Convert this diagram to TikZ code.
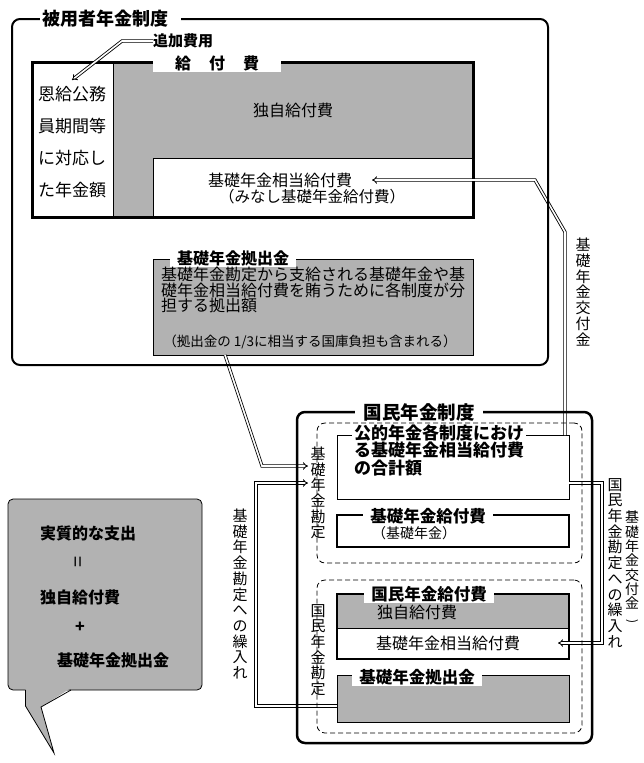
\documentclass[tikz,border=0pt]{standalone}
\usepackage{fontspec}
\usepackage{graphicx}
\setmainfont{Noto Sans CJK JP}
\usetikzlibrary{arrows.meta,calc}
\definecolor{boxgray}{RGB}{178,178,178}
\newcommand\fz[1]{\fontsize{#1}{#1}\selectfont}
\begin{document}
\begin{tikzpicture}[x=1pt,y=-1pt,
  frame/.style={draw, anchor=north west, inner sep=0pt, outer sep=0pt},
  ttl/.style={fill=white, font=\bfseries\fz{16}, inner xsep=7pt, inner ysep=1pt},
  txt/.style={font=\fz{16}, inner sep=0pt},
  vtxt/.style={align=center, inner sep=0pt, font=\fontsize{15}{15.7}\selectfont},
  dsh/.style={dash pattern=on 5pt off 3pt, line width=0.8pt},
  conn/.style={draw=black, double=white, double distance=1.6pt, line width=0.85pt},
  arr/.style={conn, -{Implies[length=5pt]}}]
\useasboundingbox (0,0) rectangle (643,763);

% ---------- benefit box of employees' system ----------
\fill[boxgray] (113,62) rectangle (473,158);
\fill[boxgray] (113,158) rectangle (153,217);
\draw[line width=1pt] (113,62) -- (113,217);
\node[frame, line width=1pt, minimum width=320pt, minimum height=59pt] (mina) at (153,158) {};
\node[frame, line width=3pt, minimum width=441pt, minimum height=155pt] (kyufu) at (32,62) {};
\node[ttl, inner xsep=22pt] (kyufuT) at (217,63) {給\hspace{18pt}付\hspace{18pt}費};
\node[txt, align=center, font=\fontsize{17}{32}\selectfont] (onkyu) at (72,142) {恩給公務\\員期間等\\に対応し\\た年金額};
\node[txt] (dokuji) at (293,110) {独自給付費};
\node[txt] (kisoS) at (280,180) {基礎年金相当給付費};
\node[txt, font=\fz{15.5}] (minashi) at (312,197) {（みなし基礎年金給付費）};
\node[txt, font=\bfseries\fz{15}] (tsuika) at (183,41) {追加費用};
\coordinate (tsuikaTip) at (72,80);

% ---------- contribution box (employees) ----------
\node[frame, fill=boxgray, line width=0.8pt, minimum width=320pt, minimum height=96pt] (kisoE) at (153,259) {};
\node[ttl] (kisoET) at (233,258) {基礎年金拠出金};
\node[txt, anchor=north west, align=left, font=\fontsize{16}{15.5}\selectfont] (kisoEtext) at (161,267) {基礎年金勘定から支給される基礎年金や基\\礎年金相当給付費を賄うために各制度が分\\担する拠出額};
\node[txt, font=\fz{13.5}] (kisoEnote) at (310,342) {（拠出金の 1/3に相当する国庫負担も含まれる）};

% ---------- national pension inner boxes ----------
\node[frame, fill=white, line width=1pt, minimum width=232pt, minimum height=64pt] (kouteki) at (337,435) {};
\node[txt, fill=white, font=\bfseries\fz{17}, anchor=west, inner xsep=2pt] (koutekiT1) at (352,433) {公的年金各制度におけ};
\node[txt, font=\bfseries\fz{17}, anchor=west] (koutekiT2) at (354,450) {る基礎年金相当給付費};
\node[txt, font=\bfseries\fz{17}, anchor=west] (koutekiT3) at (354,468) {の合計額};

\node[frame, fill=white, line width=2.5pt, minimum width=232pt, minimum height=32pt] (kisoK) at (337,515) {};
\node[ttl, font=\bfseries\fz{16.5}] (kisoKT) at (428,516) {基礎年金給付費};
\node[txt, font=\fz{14}] (kisoKsub) at (414,533) {（基礎年金）};

\fill[boxgray] (337,594) rectangle (569,628);
\draw[line width=1pt] (337,628) -- (569,628);
\node[frame, line width=2.5pt, minimum width=232pt, minimum height=65pt] (kokuK) at (337,594) {};
\node[ttl, font=\bfseries\fz{16.5}] (kokuKT) at (429,594) {国民年金給付費};
\node[txt] (kokuDoku) at (417,612) {独自給付費};
\node[txt] (kokuKiso) at (448,643) {基礎年金相当給付費};

\node[frame, fill=boxgray, line width=0.8pt, minimum width=232pt, minimum height=47pt] (kisoL) at (337,675) {};
\node[ttl, font=\bfseries\fz{16.5}] (kisoLT) at (417,677) {基礎年金拠出金};

% ---------- connectors ----------
\draw[arr] (tsuika.west) -- (122,41) -- (tsuikaTip);
\draw[arr] ($(kisoE.south west)+(72,0)$) -- (262,466) -- (308,466);
\draw[arr] ($(kisoL.west)+(0,7.5)$) -- (256,706) -- (256,483) -- (308,483);
\draw[arr] ($(kouteki.north east)+(-4,0)$) -- (565,232) -- (535,180) -- (372,180);
\draw[arr] ($(kouteki.east)+(0,16)$) -- (602,483) -- (602,643) -- (558,643);

% ---------- vertical labels ----------
\node[vtxt] (vKiso) at (318,493) {基\\礎\\年\\金\\勘\\定};
\node[vtxt] (vKoku) at (318,650) {国\\民\\年\\金\\勘\\定};
\node[vtxt] (vLeft) at (240,594) {基\\礎\\年\\金\\勘\\定\\へ\\の\\繰\\入\\れ};
\node[vtxt] (vRight1) at (615,563) {国\\民\\年\\金\\勘\\定\\へ\\の\\繰\\入\\れ};
\node[vtxt, font=\fontsize{14}{14.3}\selectfont] (vRight2) at (632,567) {\rotatebox{-90}{\fz{12}(}\\[-4pt]基\\礎\\年\\金\\交\\付\\金\\[-3pt]\rotatebox{-90}{\fz{12})}};
\node[vtxt] (vKofu) at (583,292) {基\\礎\\年\\金\\交\\付\\金};

% ---------- national system frames ----------
\node[frame, rounded corners=8pt, line width=2.5pt, minimum width=295pt, minimum height=331pt] (koku) at (297,412) {};
\node[frame, rounded corners=8pt, dsh, minimum width=265pt, minimum height=140pt] (dash1) at (317,423) {};
\node[frame, rounded corners=8pt, dsh, minimum width=265pt, minimum height=153pt] (dash2) at (317,580) {};
\node[ttl, font=\bfseries\fz{18.5}, inner xsep=8.5pt] (kokuT) at (419,412) {国民年金制度};

% ---------- employees' system frame ----------
\node[frame, rounded corners=8pt, line width=2pt, minimum width=536pt, minimum height=346pt] (emp) at (12,19) {};
\node[ttl, font=\bfseries\fz{18}, inner xsep=2pt] (empT) at (110.5,19) {被用者年金制度\kern11pt};

% ---------- speech bubble ----------
\node[frame, fill=boxgray, rounded corners=5pt, line width=0.8pt, minimum width=194pt, minimum height=191pt] (bubble) at (8,499) {};
\fill[boxgray] (25.5,688) -- (25.5,706) -- (54,753) -- (41,707) -- (71,688) -- cycle;
\draw[line width=0.8pt] (25.5,690) -- (25.5,706) -- (54,753) -- (41,707) -- (71,690);
\node[txt, font=\bfseries\fz{16}, anchor=west] (b1) at (40,533) {実質的な支出};
\node[txt, font=\fz{20}] (b2) at (80,562) {\rotatebox{90}{=}};
\node[txt, font=\bfseries\fz{16}, anchor=west] (b3) at (40,597) {独自給付費};
\node[txt, font=\bfseries\fz{16}] (b4) at (80,627) {+};
\node[txt, font=\bfseries\fz{16}, anchor=west] (b5) at (57,660) {基礎年金拠出金};
\end{tikzpicture}
\end{document}
